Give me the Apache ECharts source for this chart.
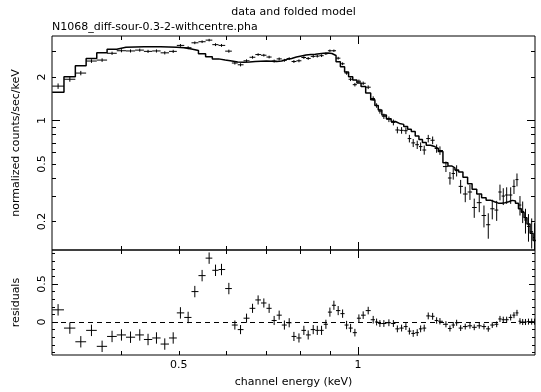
<!DOCTYPE html>
<html><head><meta charset="utf-8">
<script src="https://cdn.jsdelivr.net/npm/echarts@6/dist/echarts.min.js"></script>
<style>html,body{margin:0;padding:0;background:#fff}#c{width:541px;height:392px}</style>
</head><body><div id="c"></div>
<script>
// ---- data ----
const energy = [0.3133,0.3279,0.3421,0.3565,0.3715,0.3861,0.4004,0.4147,0.4298,0.4438,0.4585,0.4735,0.4892,
  0.5031,0.5183,0.5319,0.5471,0.5622,0.5763,0.5898,0.6068,
  0.6211,0.6349,0.6498,0.6651,0.6796,0.6948,0.7092,0.7231,0.7373,
  0.7524,0.7665,0.7806,0.7960,0.8113,0.8250,0.8412,0.8546,0.8688,0.8835,
  0.8973,0.9113,0.9265,0.9425,0.9572,0.9721,0.9885,1.0039,1.0207,1.0407,
  1.0610,1.0751,1.0889,1.1058,
  1.1275,1.1473,1.1651,1.1843,1.2042,1.2206,1.2388,1.2582,1.2749,1.2928,
  1.3130,1.3356,1.3564,1.3739,1.4061,1.4281,1.4465,1.4656,1.4885,1.5153,
  1.5431,1.5690,1.5997,1.6291,1.6565,1.6824,1.7113,1.7333,1.7556,1.7788,
  1.8066,1.8298,1.8512,1.8728,1.8925,1.9131,1.9355,1.9597,1.9810];
const counts = [1.73,1.93,2.13,2.58,2.62,2.92,3.04,3.03,3.07,3.01,3.03,2.94,3.01,
  3.31,3.19,3.45,3.51,3.60,3.35,3.31,3.02,
  2.50,2.43,2.59,2.74,2.86,2.83,2.75,2.58,2.67,
  2.61,2.68,2.56,2.59,2.73,2.69,2.78,2.79,2.81,2.90,
  3.04,3.04,2.70,2.47,2.13,1.93,1.77,1.87,1.81,1.70,
  1.42,1.27,1.16,1.07,
  1.02,0.97,0.86,0.855,0.85,0.75,0.70,0.68,0.66,0.625,
  0.75,0.73,0.64,0.62,0.48,0.40,0.43,0.45,0.35,0.31,
  0.32,0.25,0.27,0.22,0.19,0.245,0.24,0.32,0.30,0.305,
  0.305,0.35,0.39,0.26,0.235,0.205,0.185,0.17,0.155];
const countsErr = [0.075,0.075,0.075,0.075,0.075,0.075,0.075,0.075,0.075,0.075,0.075,0.075,0.075,
  0.075,0.075,0.075,0.075,0.075,0.075,0.075,0.075,
  0.06,0.06,0.06,0.06,0.06,0.06,0.06,0.06,0.06,
  0.06,0.06,0.06,0.06,0.06,0.06,0.06,0.06,0.06,0.06,
  0.06,0.06,0.06,0.055,0.055,0.055,0.05,0.05,0.05,0.05,
  0.05,0.045,0.045,0.045,
  0.045,0.045,0.045,0.045,0.045,0.045,0.045,0.045,0.045,0.045,
  0.045,0.045,0.042,0.042,0.04,0.04,0.04,0.04,0.038,0.038,
  0.038,0.038,0.038,0.038,0.038,0.038,0.038,0.04,0.04,0.04,
  0.04,0.04,0.04,0.04,0.04,0.04,0.04,0.04,0.04];
const model = [1.57,2.01,2.39,2.69,2.94,3.11,3.21,3.23,3.24,3.24,3.24,3.23,3.22,
  3.19,3.13,3.05,2.90,2.76,2.67,2.62,2.58,
  2.54,2.53,2.54,2.56,2.57,2.58,2.57,2.56,2.58,
  2.65,2.69,2.75,2.80,2.84,2.86,2.88,2.90,2.92,2.93,
  2.91,2.82,2.55,2.36,2.17,2.01,1.91,1.82,1.72,1.55,
  1.39,1.27,1.18,1.09,
  1.03,0.985,0.955,0.94,0.91,0.87,0.84,0.78,0.74,0.705,
  0.675,0.66,0.642,0.61,0.51,0.485,0.47,0.455,0.44,0.405,
  0.365,0.335,0.31,0.292,0.281,0.274,0.268,0.268,0.27,0.274,
  0.28,0.277,0.268,0.245,0.232,0.212,0.192,0.166,0.148];
const residuals = [0.16,-0.08,-0.26,-0.11,-0.32,-0.19,-0.17,-0.20,-0.17,-0.23,-0.21,-0.29,-0.21,
  0.12,0.06,0.40,0.61,0.84,0.68,0.69,0.44,
  -0.04,-0.10,0.05,0.18,0.29,0.25,0.18,0.02,0.09,
  -0.04,-0.01,-0.19,-0.21,-0.11,-0.17,-0.10,-0.11,-0.11,-0.03,
  0.13,0.22,0.15,0.11,-0.04,-0.08,-0.14,0.05,0.09,0.15,
  0.03,0.00,-0.02,-0.02,
  -0.01,-0.02,-0.09,-0.08,-0.06,-0.12,-0.15,-0.14,-0.09,-0.08,
  0.08,0.075,0.02,0.01,-0.03,-0.085,-0.04,-0.01,-0.08,-0.06,
  -0.05,-0.07,-0.05,-0.06,-0.09,-0.04,-0.03,0.04,0.03,0.03,
  0.06,0.09,0.12,0.01,0.0,0.0,0.005,0.005,0.005];

const xRange = [0.306, 1.985];
const yRange = [0.127, 3.845];
const residRange = [-0.434, 0.947];
const xMinorTicks = [0.4,0.5,0.6,0.7,0.8,0.9];
const xMajorTicks = [1];
const xTickLabels = [0.5, 1];
const yMinorTicks = [0.2,0.3,0.4,0.5,0.6,0.7,0.8,0.9,2,3];
const yMajorTicks = [1];
const yTickLabels = [0.2, 0.5, 1, 2];
const rMinorTicks = [-0.4,-0.3,-0.2,-0.1,0.1,0.2,0.3,0.4,0.6,0.7,0.8,0.9];
const rMajorTicks = [0, 0.5];
const rTickLabels = [0, 0.5];

// ---- build ----
const L = v => Math.log10(v);
const FONT = 'DejaVu Sans';
const INK = '#000';
const fmt = v => String(parseFloat(v.toPrecision(3)));
const n = energy.length;
const lx = energy.map(L);
const edges = [];
for (let i = 0; i <= n; i++) {
  if (i === 0) edges.push(lx[0] - (lx[1] - lx[0]) / 2);
  else if (i === n) edges.push(lx[n - 1] + (lx[n - 1] - lx[n - 2]) / 2);
  else edges.push((lx[i - 1] + lx[i]) / 2);
}

function xAx(grid, pos, ticks, len, label, name) {
  const a = {
    type: 'value', gridIndex: grid, position: pos,
    min: L(xRange[0]), max: L(xRange[1]),
    axisLine: { show: false, onZero: false },
    splitLine: { show: false },
    axisTick: { show: true, inside: true, length: len, customValues: ticks.map(L), lineStyle: { color: INK, width: 1 } },
    axisLabel: { show: false }
  };
  if (label) {
    a.axisLabel = { show: true, customValues: label.map(L), formatter: v => fmt(Math.pow(10, v)),
      color: INK, fontFamily: FONT, fontSize: 11, margin: 5 };
  }
  if (name) {
    Object.assign(a, { name: name, nameLocation: 'middle', nameGap: 22,
      nameTextStyle: { color: INK, fontFamily: FONT, fontSize: 11 } });
  }
  return a;
}
function yAx(grid, pos, range, ticks, len, tf, label, name) {
  const a = {
    type: 'value', gridIndex: grid, position: pos,
    min: tf(range[0]), max: tf(range[1]),
    axisLine: { show: false, onZero: false },
    splitLine: { show: false },
    axisTick: { show: true, inside: true, length: len, customValues: ticks.map(tf), lineStyle: { color: INK, width: 1 } },
    axisLabel: { show: false }
  };
  if (label) {
    a.axisLabel = { show: true, customValues: label.map(tf),
      formatter: v => fmt(tf === L ? Math.pow(10, v) : (Math.abs(v) < 1e-9 ? 0 : v)),
      rotate: 90, color: INK, fontFamily: FONT, fontSize: 11, margin: 4 };
  }
  if (name) {
    Object.assign(a, { name: name, nameLocation: 'middle', nameGap: 30, nameRotate: 90,
      nameTextStyle: { color: INK, fontFamily: FONT, fontSize: 11 } });
  }
  return a;
}
const ID = v => v;

const xAxis = [
  xAx(0, 'bottom', xMinorTicks, 4),
  xAx(0, 'bottom', xMajorTicks, 8),
  xAx(0, 'top', xMinorTicks, 4),
  xAx(0, 'top', xMajorTicks, 8),
  xAx(1, 'bottom', xMinorTicks, 4),
  xAx(1, 'bottom', xMajorTicks, 8, xTickLabels, 'channel energy (keV)'),
  xAx(1, 'top', xMinorTicks, 4),
  xAx(1, 'top', xMajorTicks, 8)
];
const yAxis = [
  yAx(0, 'left', yRange, yMinorTicks, 4, L),
  yAx(0, 'left', yRange, yMajorTicks, 8, L, yTickLabels, 'normalized counts/sec/keV'),
  yAx(0, 'right', yRange, yMinorTicks, 4, L),
  yAx(0, 'right', yRange, yMajorTicks, 8, L),
  yAx(1, 'left', residRange, rMinorTicks, 3, ID),
  yAx(1, 'left', residRange, rMajorTicks, 6, ID, rTickLabels, 'residuals'),
  yAx(1, 'right', residRange, rMinorTicks, 3, ID),
  yAx(1, 'right', residRange, rMajorTicks, 6, ID)
];

function crossRender(params, api) {
  const y = api.value(1);
  const c = api.coord([api.value(0), y]);
  const l = api.coord([api.value(2), y]);
  const r = api.coord([api.value(3), y]);
  const b = api.coord([api.value(0), api.value(4)]);
  const t = api.coord([api.value(0), api.value(5)]);
  const st = { stroke: INK, lineWidth: 1 };
  return { type: 'group', children: [
    { type: 'line', shape: { x1: l[0], y1: c[1], x2: r[0], y2: c[1] }, style: st },
    { type: 'line', shape: { x1: c[0], y1: b[1], x2: c[0], y2: t[1] }, style: st }
  ] };
}

const topData = energy.map((e, i) => [lx[i], L(counts[i]), edges[i], edges[i + 1],
  L(counts[i] - countsErr[i]), L(counts[i] + countsErr[i])]);
const resData = energy.map((e, i) => [lx[i], residuals[i], edges[i], edges[i + 1],
  residuals[i] - countsErr[i], residuals[i] + countsErr[i]]);
const modelLine = [];
model.forEach((m, i) => { modelLine.push([edges[i], L(m)]); modelLine.push([edges[i + 1], L(m)]); });

const chart = echarts.init(document.getElementById('c'), null, { renderer: 'canvas' });
chart.setOption({
  animation: false,
  backgroundColor: '#fff',
  graphic: [
    { type: 'text', x: 293.5, y: 12, style: { text: 'data and folded model', fill: INK,
      font: '11px "DejaVu Sans"', textAlign: 'center', textVerticalAlign: 'middle' } },
    { type: 'text', x: 52, y: 27, style: { text: 'N1068_diff-sour-0.3-2-withcentre.pha', fill: INK,
      font: '11px "DejaVu Sans"', textAlign: 'left', textVerticalAlign: 'middle' } }
  ],
  grid: [
    { left: 52, top: 36, width: 483, height: 214, show: true, borderColor: INK, borderWidth: 1, backgroundColor: 'transparent' },
    { left: 52, top: 250, width: 483, height: 105, show: true, borderColor: INK, borderWidth: 1, backgroundColor: 'transparent' }
  ],
  xAxis: xAxis,
  yAxis: yAxis,
  series: [
    { type: 'custom', name: 'data', xAxisIndex: 1, yAxisIndex: 1, renderItem: crossRender,
      data: topData, clip: true, encode: { x: 0, y: 1 } },
    { type: 'line', name: 'model', xAxisIndex: 1, yAxisIndex: 1, data: modelLine,
      showSymbol: false, symbol: 'none', clip: true,
      lineStyle: { color: INK, width: 1.5 } },
    { type: 'custom', name: 'residuals', xAxisIndex: 5, yAxisIndex: 5, renderItem: crossRender,
      data: resData, clip: true, encode: { x: 0, y: 1 },
      markLine: { silent: true, symbol: 'none', label: { show: false },
        lineStyle: { color: INK, type: [5, 4], width: 1 }, data: [{ yAxis: 0 }] } }
  ]
});
</script></body></html>
